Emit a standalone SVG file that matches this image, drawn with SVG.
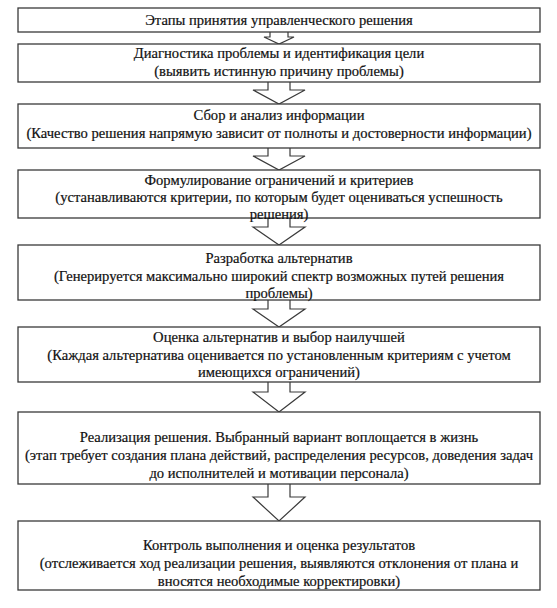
<svg xmlns="http://www.w3.org/2000/svg" width="557" height="608" viewBox="0 0 557 608">
<style>
.box{fill:#fff;stroke:#3a3a3a;stroke-width:1.3}
.arr{fill:#fff;stroke:#3a3a3a;stroke-width:1.2;stroke-linejoin:miter}
.t text{font-family:"Liberation Serif","Times New Roman",serif;font-size:14.6px;fill:#111;stroke:#111;stroke-width:0.2;text-anchor:middle}
</style>
<rect width="557" height="608" fill="#fff"/>
<g id="connectors">
<path class="arr" d="M270,32 V37 H264 L279,44 L294,37 H288 V32"/>
<path class="arr" d="M268,82 V90 H253 L279,104 L305,90 H290 V82"/>
<path class="arr" d="M268,148 V156 H253 L279,170 L305,156 H290 V148"/>
<path class="arr" d="M268,218 V227 H253 L279,245 L305,227 H290 V218"/>
<path class="arr" d="M268,300 V309 H253 L279,327 L305,309 H290 V300"/>
<path class="arr" d="M268,382 V392 H253 L279,412 L305,392 H290 V382"/>
<path class="arr" d="M268,484 V497 H253 L279,521 L305,497 H290 V484"/>
</g>
<g class="t">
<g id="n1"><rect class="box" x="18" y="8" width="522" height="24"/><text x="279" y="25">Этапы принятия управленческого решения</text></g>
<g id="n2"><rect class="box" x="18" y="44" width="522" height="38"/><text x="279" y="58">Диагностика проблемы и идентификация цели</text><text x="279" y="76">(выявить истинную причину проблемы)</text></g>
<g id="n3"><rect class="box" x="18" y="104" width="522" height="44"/><text x="279" y="120">Сбор и анализ информации</text><text x="279" y="138">(Качество решения напрямую зависит от полноты и достоверности информации)</text></g>
<g id="n4"><rect class="box" x="18" y="170" width="522" height="48"/><text x="279" y="185">Формулирование ограничений и критериев</text><text x="279" y="202">(устанавливаются критерии, по которым будет оцениваться успешность</text><text x="279" y="219">решения)</text></g>
<g id="n5"><rect class="box" x="18" y="245" width="522" height="55"/><text x="279" y="263">Разработка альтернатив</text><text x="279" y="281">(Генерируется максимально широкий спектр возможных путей решения</text><text x="279" y="298">проблемы)</text></g>
<g id="n6"><rect class="box" x="18" y="327" width="522" height="55"/><text x="279" y="342">Оценка альтернатив и выбор наилучшей</text><text x="279" y="360">(Каждая альтернатива оценивается по установленным критериям с учетом</text><text x="279" y="377">имеющихся ограничений)</text></g>
<g id="n7"><rect class="box" x="18" y="412" width="522" height="72"/><text x="279" y="442">Реализация решения. Выбранный вариант воплощается в жизнь</text><text x="279" y="460">(этап требует создания плана действий, распределения ресурсов, доведения задач</text><text x="279" y="478">до исполнителей и мотивации персонала)</text></g>
<g id="n8"><rect class="box" x="18" y="521" width="522" height="69"/><text x="279" y="550">Контроль выполнения и оценка результатов</text><text x="279" y="568">(отслеживается ход реализации решения, выявляются отклонения от плана и</text><text x="279" y="586">вносятся необходимые корректировки)</text></g>
</g>
</svg>
